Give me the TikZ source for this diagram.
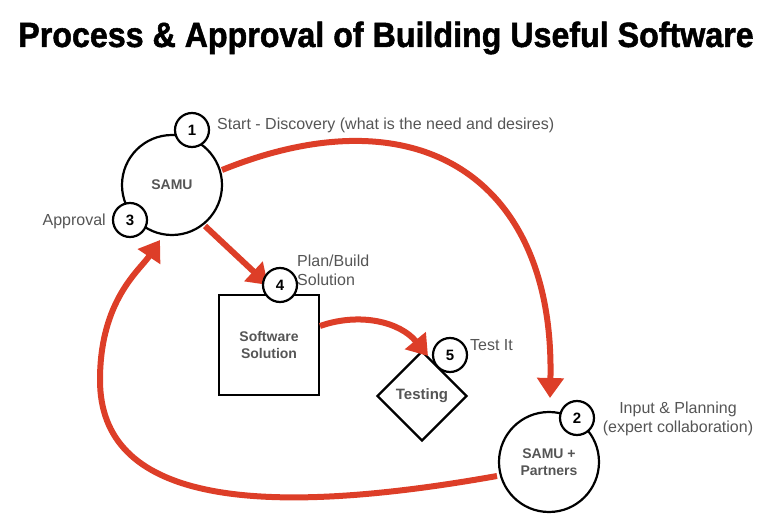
\documentclass[tikz,border=0pt]{standalone}
\usepackage{fontspec}
\setmainfont{Liberation Sans}
\newfontfamily\titlefont[FakeBold=1.5]{Liberation Sans Bold}
\usetikzlibrary{arrows.meta,shapes.geometric}
\definecolor{arr}{RGB}{221,62,40}
\definecolor{txt}{RGB}{85,85,85}
\begin{document}
\begin{tikzpicture}[x=1pt,y=-1pt,
  big/.style={circle,draw,line width=2.2pt,minimum size=100pt,inner sep=0pt,font=\bfseries\fontsize{14}{17}\selectfont,text=txt,align=center},
  num/.style={circle,draw,fill=white,line width=2.2pt,minimum size=34pt,inner sep=0pt,font=\bfseries\fontsize{15}{17}\selectfont},
  lbl/.style={text=txt,font=\fontsize{16}{19}\selectfont,inner sep=0pt},
  ar/.style={draw=arr,line width=6pt,-{Triangle[length=20pt,width=26pt]}}]
\useasboundingbox (0,0) rectangle (772,524);
\node[font=\titlefont\fontsize{35}{40}\selectfont,xscale=0.92] (title) at (386,38) {Process \& Approval of Building Useful Software};
\node[big] (samu) at (172,185) {SAMU};
\node[big,align=center] (part) at (549,462) {SAMU +\\Partners};
\node[draw,line width=2.2pt,minimum size=100pt,inner sep=0pt,font=\bfseries\fontsize{14}{17}\selectfont,text=txt,align=center] (soft) at (269,345) {Software\\Solution};
\node[diamond,draw,line width=2.2pt,minimum size=90pt,inner sep=0pt,font=\bfseries\fontsize{15}{17}\selectfont,text=txt] (test) at (422,396) {Testing};
\coordinate (a1s) at (222,170);
\coordinate (a1e) at (550,398);
\coordinate (a2s) at (205,226);
\coordinate (a2e) at (268,285);
\coordinate (a3s) at (320,326);
\coordinate (a3e) at (428,356);
\coordinate (a4s) at (497,476);
\coordinate (a4e) at (160,240);
\draw[ar] (a1s) .. controls (420,90) and (555,180) .. (a1e);
\draw[ar] (a2s) -- (a2e);
\draw[ar] (a3s) .. controls (360,312) and (400,322) .. (a3e);
\draw[ar] (a4s) .. controls (250,520) and (100,500) .. (100,380) .. controls (100,300) and (140,270) .. (a4e);
\node[num] (n1) at (192,130) {1};
\node[num] (n3) at (130,220) {3};
\node[num] (n4) at (280,285) {4};
\node[num] (n5) at (450,355) {5};
\node[num] (n2) at (577,418) {2};
\node[lbl,anchor=west] (l1) at (217,125) {Start - Discovery (what is the need and desires)};
\node[lbl,anchor=east] (l3) at (106,221) {Approval};
\node[lbl,anchor=west,align=left] (l4) at (297,270) {Plan/Build\\Solution};
\node[lbl,anchor=west] (l5) at (470,345) {Test It};
\node[lbl,align=center] (l2) at (678,419) {Input \& Planning\\(expert collaboration)};
\end{tikzpicture}
\end{document}
